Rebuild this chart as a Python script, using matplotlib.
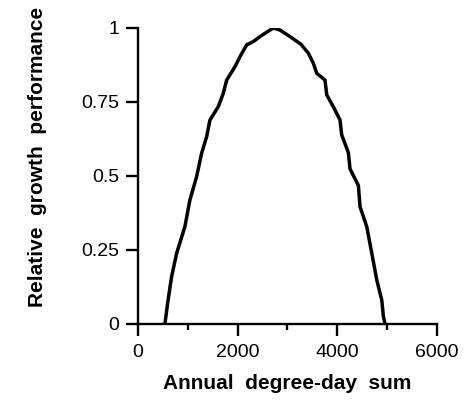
import matplotlib.pyplot as plt
from matplotlib.ticker import MultipleLocator

# values
degree_days = [542, 596, 676, 777, 943, 1043, 1178, 1278, 1379, 1445, 1611, 1712,
               1780, 1946, 2047, 2181, 2314, 2448, 2548, 2715, 2850, 3050, 3270,
               3417, 3518, 3586, 3752, 3787, 3919, 4053, 4087, 4220, 4254, 4421,
               4455, 4589, 4690, 4790, 4890, 4923, 4957]
performance = [0.0, 0.070, 0.160, 0.239, 0.329, 0.419, 0.498, 0.577, 0.633, 0.689,
               0.734, 0.779, 0.824, 0.869, 0.903, 0.943, 0.954, 0.971, 0.982, 1.0,
               0.993, 0.971, 0.945, 0.915, 0.881, 0.847, 0.824, 0.774, 0.734, 0.689,
               0.639, 0.579, 0.524, 0.468, 0.396, 0.329, 0.239, 0.149, 0.081, 0.025,
               0.0]

x_ticks = [0, 2000, 4000, 6000]
y_ticks = [0, 0.25, 0.5, 0.75, 1]
y_ticklabels = ["0", "0.25", "0.5", "0.75", "1"]

plt.rcParams['font.family'] = ['Liberation Sans', 'DejaVu Sans']

fig = plt.figure(figsize=(4.69, 4.0), dpi=100)
ax = fig.add_axes([0.294, 0.19, 0.638, 0.74])

ax.plot(degree_days, performance, color='black', linewidth=2.5,
        solid_joinstyle='round', solid_capstyle='butt')

ax.set_xlim(0, 6000)
ax.set_ylim(0, 1)
ax.set_xticks(x_ticks)
ax.xaxis.set_minor_locator(MultipleLocator(1000))
ax.set_yticks(y_ticks)
ax.set_yticklabels(y_ticklabels)

for side in ['top', 'right']:
    ax.spines[side].set_visible(False)
for side in ['left', 'bottom']:
    ax.spines[side].set_linewidth(1.7)

ax.tick_params(axis='both', which='major', direction='out', length=8.5, width=1.7,
               labelsize=14)
ax.tick_params(axis='x', which='major', pad=6)
ax.tick_params(axis='y', which='major', pad=5)
ax.tick_params(axis='x', which='minor', direction='out', length=4, width=1.7)
ax.tick_params(axis='y', which='minor', left=False)

ax.set_xlabel("Annual  degree-day  sum", fontsize=15, fontweight='bold', labelpad=9)
ax.set_ylabel("Relative  growth  performance", fontsize=15, fontweight='bold')
ax.yaxis.set_label_coords(-0.305, 0.565)

fig.savefig('out.png', dpi=100)
